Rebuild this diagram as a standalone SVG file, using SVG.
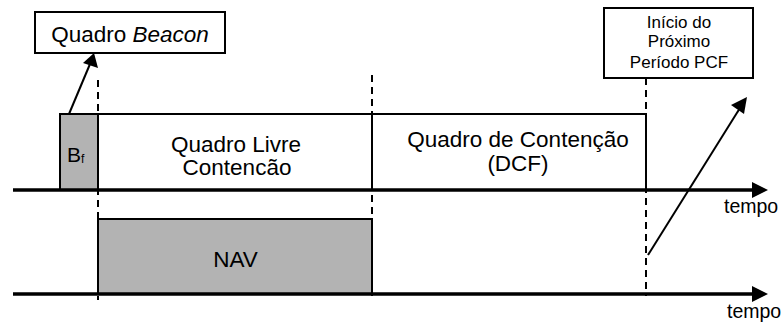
<svg xmlns="http://www.w3.org/2000/svg" width="784" height="325" viewBox="0 0 784 325">
<style>
text{font-family:"Liberation Sans",Arial,sans-serif;fill:#000}
.box{fill:#fff;stroke:#000;stroke-width:2}
.gray{fill:#b3b3b3;stroke:#000;stroke-width:2}
.axis{stroke:#000;stroke-width:3.5;fill:none}
.dash{stroke:#000;stroke-width:2;stroke-dasharray:7,5;fill:none}
.arr{stroke:#000;stroke-width:2;fill:none}
.big{font-size:22.5px;text-anchor:middle}
</style>
<g id="beacon-label">
<rect class="box" x="35" y="12" width="190" height="41"/>
<text class="big" x="130" y="42">Quadro <tspan font-style="italic">Beacon</tspan></text>
</g>
<g id="next-pcf">
<rect class="box" x="604" y="8" width="149" height="70"/>
<text x="679" y="28" font-size="17" text-anchor="middle">Início do</text>
<text x="679" y="47" font-size="17" text-anchor="middle">Próximo</text>
<text x="679" y="68" font-size="17" text-anchor="middle">Período PCF</text>
</g>
<g id="bf">
<rect class="gray" x="60" y="114" width="38" height="76"/>
<text x="67" y="162" font-size="21">B<tspan font-size="12" dy="1">f</tspan></text>
</g>
<g id="cfp">
<rect class="box" x="98" y="114" width="274" height="76"/>
<text class="big" x="236" y="152">Quadro Livre</text>
<text class="big" x="237" y="175">Contencão</text>
</g>
<g id="cp">
<rect class="box" x="372" y="114" width="274" height="76"/>
<text class="big" x="518" y="147">Quadro de Contenção</text>
<text class="big" x="518" y="171">(DCF)</text>
</g>
<g id="nav">
<rect class="gray" x="98" y="219" width="274" height="75"/>
<text class="big" x="235.5" y="267">NAV</text>
</g>
<g id="connectors">
<line class="dash" x1="98" y1="80" x2="98" y2="300"/>
<line class="dash" x1="372" y1="75" x2="372" y2="296"/>
<line class="dash" x1="646" y1="78" x2="646" y2="296"/>
<line class="axis" x1="13" y1="190" x2="754" y2="190"/>
<path d="M752,182 L768,190 L752,198 z" fill="#000"/>
<line class="axis" x1="13" y1="294" x2="754" y2="294"/>
<path d="M752,286 L768,294 L752,302 z" fill="#000"/>
<line class="arr" x1="69" y1="114" x2="90" y2="64"/>
<path d="M94,53 L98,68 L83,63 z" fill="#000"/>
<line class="arr" x1="648" y1="255" x2="740" y2="108"/>
<path d="M747,97 L744,114 L731,105 z" fill="#000"/>
</g>
<text x="724" y="213" font-size="19.5">tempo</text>
<text x="727" y="318" font-size="19.5">tempo</text>
</svg>
